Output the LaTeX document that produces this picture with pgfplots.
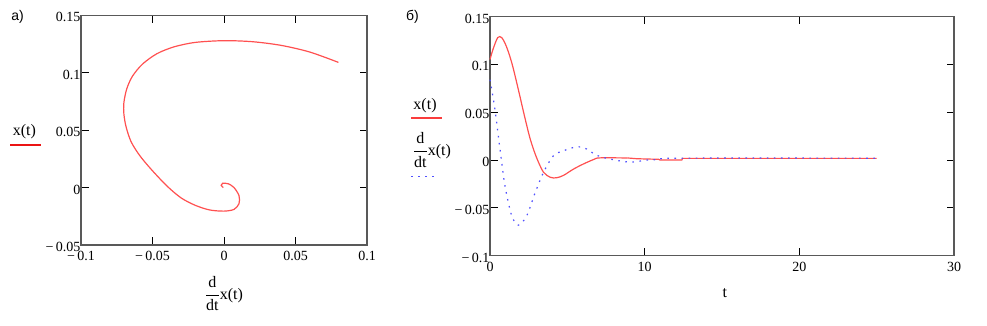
\documentclass[border=0pt]{standalone}
\usepackage{fontspec}
\setmainfont{Liberation Serif}
\newfontfamily\arialfont{Liberation Sans}
\usepackage{pgfplots}
\pgfplotsset{compat=1.18}
\definecolor{cred}{RGB}{255,80,80}
\definecolor{lred}{RGB}{235,20,20}
\definecolor{mred}{RGB}{250,60,60}
\definecolor{cblue}{RGB}{80,80,255}
\newcommand\tickfont{\fontsize{14}{16}\selectfont}
\newcommand\labfont{\fontsize{16}{18}\selectfont}
\newcommand\panfont{\arialfont\fontsize{14}{16}\selectfont}

\begin{document}
\begin{tikzpicture}
\path[use as bounding box] (0,0) rectangle (987pt,326pt);
\pgfplotsset{common/.style={
  scale only axis, clip=false,
  axis line style={black!65,line width=1.1pt},
  tick style={black, line width=0.9pt},
  major tick length=7.5pt, tick align=inside,
  tick label style={font=\tickfont},
  xticklabel style={yshift=-2.5pt},
  yticklabel style={xshift=2.8pt,yshift=-2pt}}}

% ---------- a) phase portrait ----------
\begin{axis}[common, at={(81pt,81pt)}, anchor=south west,
  width=286pt, height=229.7pt,
  xmin=-0.1, xmax=0.1, ymin=-0.05, ymax=0.15,
  xtick={-0.1,-0.05,0,0.05,0.1},
  xticklabels={−\,0.1,−\,0.05,0,0.05,0.1},
  ytick={-0.05,0,0.05,0.1,0.15},
  yticklabels={−\,0.05,0,0.05,0.1,0.15}]
\addplot[cred, line width=1.2pt, smooth, tension=0.5] coordinates {
(0.080,0.109) (0.060,0.118) (0.040,0.1238) (0.020,0.127) (0.000,0.1279)
(-0.020,0.1264) (-0.035,0.1225) (-0.047,0.1165) (-0.057,0.1075) (-0.064,0.097)
(-0.068,0.086) (-0.0700,0.074) (-0.0700,0.064) (-0.0685,0.053) (-0.065,0.040)
(-0.059,0.028) (-0.051,0.016) (-0.040,0.0015) (-0.030,-0.009) (-0.020,-0.0155)
(-0.010,-0.0195) (0.000,-0.0205) (0.007,-0.019) (0.0105,-0.014) (0.0105,-0.007)
(0.007,0.000) (0.003,0.0033) (-0.001,0.0037) (-0.002,0.002) (-0.0005,0.0000)};
\node[font=\labfont] at (axis description cs:-0.198,0.493) {x(t)};
\path[draw, color=lred, line width=1.3pt] (axis description cs:-0.248,0.435) -- (axis description cs:-0.141,0.435);
\node[font=\panfont] at (axis description cs:-0.222,0.994) {a)};
\node[font=\labfont] at (axis description cs:0.5,-0.212) {$\displaystyle\frac{\mbox{d}}{\mbox{dt}}\mbox{x(t)}$};
\end{axis}

% ---------- b) time responses ----------
\begin{axis}[common, at={(490pt,70.2pt)}, anchor=south west,
  width=464pt, height=239.3pt,
  xmin=0, xmax=30, ymin=-0.1, ymax=0.15,
  xtick={0,10,20,30}, xticklabels={0,10,20,30},
  ytick={-0.1,-0.05,0,0.05,0.1,0.15},
  yticklabels={−\,0.1,−\,0.05,0,0.05,0.1,0.15}]
% x(t)
\addplot[cred, line width=1.2pt, smooth, tension=0.5] coordinates {
(0,0.105) (0.2,0.116) (0.5,0.128) (0.75,0.128) (1.0,0.121) (1.25,0.11) (1.5,0.096)
(1.9,0.069) (2.2,0.048) (2.6,0.022) (3.0,0.003) (3.45,-0.0125) (3.9,-0.018)
(4.3,-0.0185) (4.75,-0.016) (5.4,-0.0094) (6.05,-0.004) (6.7,0.0006) (7.1,0.0023)
(8.9,0.0022)};
\addplot[cred, line width=1.2pt] coordinates {
(8.9,0.0022) (9.5,0.0014) (10.9,0.0008) (11.0,0.0) (12.4,0.0) (12.45,0.0018) (25,0.0018)};
% dx/dt
\addplot[cblue, line width=1.2pt, dash pattern=on 1.6pt off 5.5pt, smooth, tension=0.5] coordinates {
(0,0.084) (0.15,0.07) (0.32,0.053) (0.65,0.011) (0.97,-0.027) (1.4,-0.058)
(1.84,-0.068) (2.38,-0.058) (2.92,-0.034) (3.46,-0.0128) (4.1,0.0045) (4.75,0.0097)
(5.62,0.0139) (6.26,0.0115) (6.91,0.0049) (7.99,0.0003) (9.1,-0.0021) (10.15,0)
(10.9,0.0005) (12.3,0.002) (25,0.002)};
\node[font=\labfont] at (axis description cs:-0.140,0.626) {x(t)};
\path[draw, color=mred, line width=1.6pt] (axis description cs:-0.170,0.575) -- (axis description cs:-0.103,0.575);
\node[font=\labfont] at (axis description cs:-0.125,0.442) {$\displaystyle\frac{\mbox{d}}{\mbox{dt}}\mbox{x(t)}$};
\path[draw, color=cblue, line width=1.2pt, dash pattern=on 1.6pt off 5.5pt] (axis description cs:-0.170,0.331) -- (axis description cs:-0.117,0.331);
\node[font=\panfont] at (axis description cs:-0.167,0.999) {б)};
\node[font=\labfont] at (axis description cs:0.506,-0.157) {t};
\end{axis}
\end{tikzpicture}
\end{document}
